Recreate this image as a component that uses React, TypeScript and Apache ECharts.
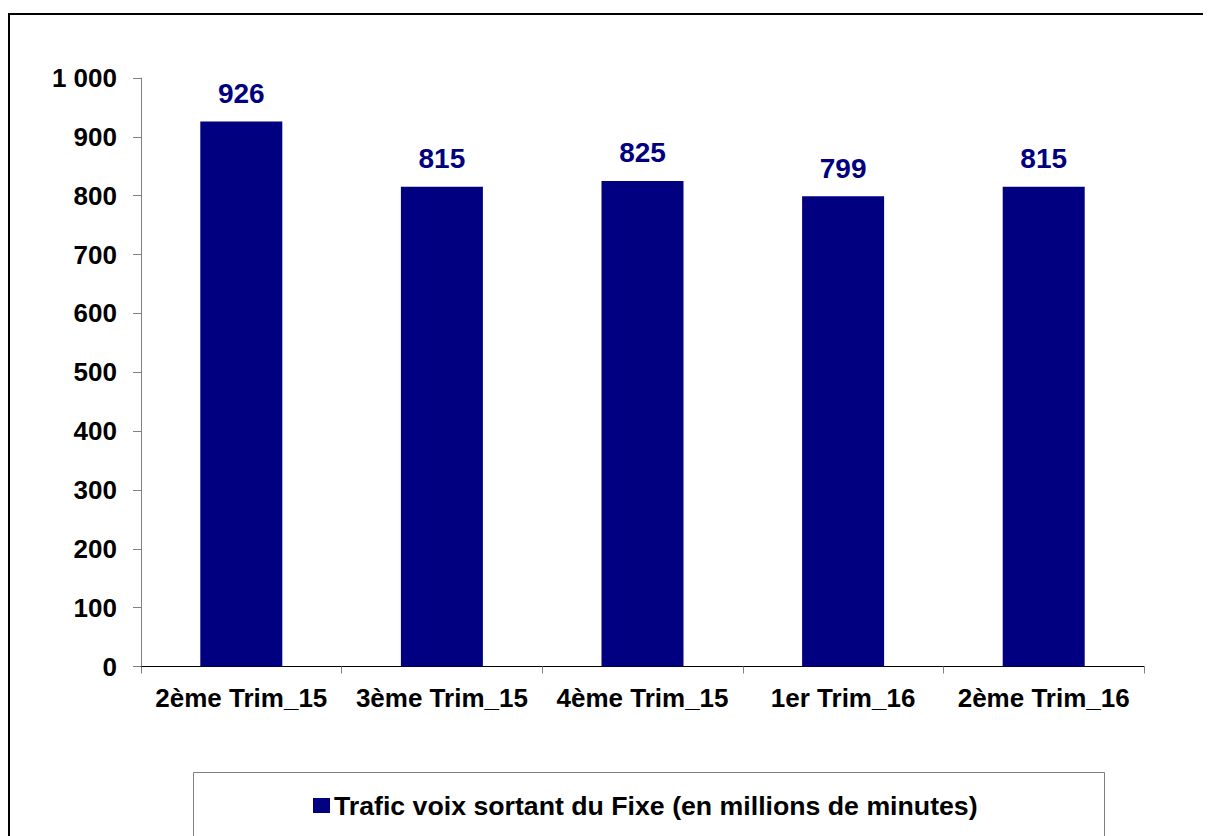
import React, { useEffect, useRef } from "react";
import * as echarts from "echarts";

const categories = ["2ème Trim_15", "3ème Trim_15", "4ème Trim_15", "1er Trim_16", "2ème Trim_16"];
const seriesName = "Trafic voix sortant du Fixe (en millions de minutes)";
const values = [926, 815, 825, 799, 815];
const yMin = 0;
const yMax = 1000;
const yInterval = 100;

const FONT = "'Liberation Sans', Arial, Helvetica, sans-serif";
const NAVY = "#000080";

const W = 1300;
const H = 900;

export default function App() {
  const ref = useRef<HTMLDivElement>(null);
  useEffect(() => {
    document.documentElement.style.overflow = "hidden";
    document.body.style.overflow = "hidden";
    const chart = echarts.init(ref.current!, null, { renderer: "svg" });
    chart.setOption({
      animation: false,
      backgroundColor: "#ffffff",
      textStyle: { fontFamily: FONT },
      grid: { left: 133, right: W - 1136, top: 70, bottom: H - 658.5, containLabel: false },
      graphic: [
        {
          type: "polyline",
          shape: { points: [[1, 1200], [1, 6], [1600, 6]] },
          style: { fill: "none", stroke: "#000000", lineWidth: 2 },
          silent: true,
        },
        {
          type: "polyline",
          shape: { points: [[185.5, 1200], [185.5, 764.5], [1096.5, 764.5], [1096.5, 1200]] },
          style: { fill: "none", stroke: "#808080", lineWidth: 1 },
          silent: true,
        },
      ],
      legend: {
        data: [seriesName],
        left: 305,
        top: 784,
        padding: 0,
        itemWidth: 17,
        itemHeight: 15,
        itemGap: 5,
        icon: "rect",
        textStyle: { fontFamily: FONT, fontSize: 26.7, fontWeight: "bold", color: "#000000", padding: [0, 0, 0, -1] },
      },
      xAxis: {
        type: "category",
        data: categories,
        axisLine: { lineStyle: { color: "#000000", width: 1 } },
        axisTick: { show: true, length: 7, lineStyle: { color: "#808080" } },
        axisLabel: { fontFamily: FONT, fontSize: 26, fontWeight: "bold", color: "#000000", margin: 18, interval: 0 },
        splitLine: { show: false },
      },
      yAxis: {
        type: "value",
        min: yMin,
        max: yMax,
        interval: yInterval,
        axisLine: { show: true, lineStyle: { color: "#808080", width: 1 } },
        axisTick: { show: true, length: 8, lineStyle: { color: "#808080" } },
        axisLabel: {
          fontFamily: FONT,
          fontSize: 26,
          fontWeight: "bold",
          color: "#000000",
          margin: 24,
          formatter: (v: number) => (v >= 1000 ? String(v).replace(/\B(?=(\d{3})+(?!\d))/g, " ") : String(v)),
        },
        splitLine: { show: false },
      },
      series: [
        {
          name: seriesName,
          type: "bar",
          data: values,
          barWidth: 82,
          itemStyle: { color: NAVY },
          label: {
            show: true,
            position: "top",
            distance: 14,
            fontFamily: FONT,
            fontSize: 28,
            fontWeight: "bold",
            color: NAVY,
          },
        },
      ],
    });
    return () => chart.dispose();
  }, []);
  return <div ref={ref} style={{ width: W, height: H }} />;
}
